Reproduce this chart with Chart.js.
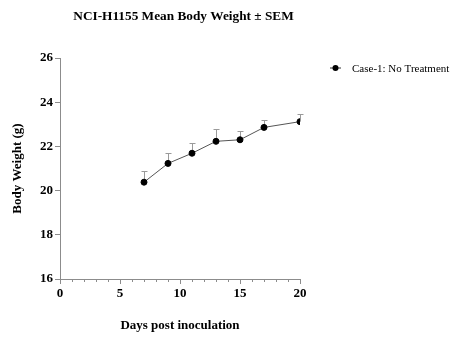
<!DOCTYPE html>
<html>
<head>
<meta charset="utf-8">
<script src="https://cdn.jsdelivr.net/npm/chart.js@4/dist/chart.umd.min.js"></script>
<style>
  html, body { margin: 0; padding: 0; background: #fff; }
  #wrap { width: 460px; height: 349px; }
</style>
</head>
<body>
<div id="wrap"><canvas id="bw"></canvas></div>
<script>
const days = [7, 9, 11, 13, 15, 17, 20];
const meanWeight = [20.38, 21.23, 21.69, 22.23, 22.30, 22.86, 23.12];
const sem = [0.52, 0.46, 0.48, 0.54, 0.38, 0.35, 0.36];
const xTicks = [0, 5, 10, 15, 20];
const yTicks = [16, 18, 20, 22, 24, 26];
const seriesName = "Case-1: No Treatment";
const chartTitle = "NCI-H1155 Mean Body Weight \u00b1 SEM";

const serif = "'Liberation Serif', 'Times New Roman', serif";
const axisGray = "#8c8c8c";

// upper error bars, minor x ticks, title and legend
const extras = {
  id: "extras",
  beforeDatasetsDraw(chart) {
    const ctx = chart.ctx;
    const xs = chart.scales.x, ys = chart.scales.y;
    ctx.save();
    ctx.strokeStyle = "#9a9a9a";
    ctx.lineWidth = 1;
    days.forEach((d, i) => {
      const px = Math.round(xs.getPixelForValue(d)) + 0.5;
      const y0 = ys.getPixelForValue(meanWeight[i]);
      const y1 = Math.round(ys.getPixelForValue(meanWeight[i] + sem[i])) + 0.5;
      ctx.beginPath();
      ctx.moveTo(px, y0);
      ctx.lineTo(px, y1);
      ctx.moveTo(px - 3, y1);
      ctx.lineTo(px + 3, y1);
      ctx.stroke();
    });
    ctx.restore();
  },
  afterDraw(chart) {
    const ctx = chart.ctx;
    const xs = chart.scales.x;
    const a = chart.chartArea;
    ctx.save();
    // minor ticks
    ctx.strokeStyle = axisGray;
    ctx.lineWidth = 1;
    for (let d = 1; d < 20; d++) {
      if (d % 5 === 0) continue;
      const px = Math.round(xs.getPixelForValue(d)) + 0.5;
      ctx.beginPath();
      ctx.moveTo(px, a.bottom);
      ctx.lineTo(px, a.bottom + 3);
      ctx.stroke();
    }
    // title
    ctx.fillStyle = "#000";
    ctx.font = "bold 13.3px " + serif;
    ctx.textAlign = "center";
    ctx.textBaseline = "middle";
    ctx.fillText(chartTitle, (a.left + a.right) / 2 + 3.5, 17);
    // legend
    const ly = 68;
    ctx.strokeStyle = "#333";
    ctx.beginPath();
    ctx.moveTo(330, ly);
    ctx.lineTo(341, ly);
    ctx.stroke();
    ctx.fillStyle = "#000";
    ctx.beginPath();
    ctx.arc(335.5, ly, 3, 0, Math.PI * 2);
    ctx.fill();
    ctx.font = "11px " + serif;
    ctx.textAlign = "left";
    ctx.fillText(seriesName, 352, ly + 1);
    ctx.restore();
  }
};

new Chart(document.getElementById("bw"), {
  type: "line",
  data: {
    datasets: [
      {
        label: seriesName,
        data: days.map((d, i) => ({ x: d, y: meanWeight[i] })),
        borderColor: "#555",
        borderWidth: 1,
        backgroundColor: "#000",
        pointBackgroundColor: "#000",
        pointBorderColor: "#000",
        pointRadius: 3,
        pointBorderWidth: 1,
        tension: 0,
      },
    ],
  },
  options: {
    responsive: true,
    maintainAspectRatio: false,
    animation: false,
    layout: { padding: { top: 58, right: 160, bottom: 12, left: 0 } },
    plugins: {
      legend: { display: false },
      tooltip: { enabled: false },
    },
    scales: {
      x: {
        type: "linear",
        min: 0,
        max: 20,
        afterBuildTicks: (s) => { s.ticks = xTicks.map((v) => ({ value: v })); },
        afterFit: (s) => { s.height = 58; },
        ticks: {
          color: "#000",
          font: { family: serif, size: 13, weight: "bold" },
          padding: 2,
          maxRotation: 0,
        },
        grid: {
          drawOnChartArea: false,
          tickLength: 5,
          tickColor: axisGray,
        },
        border: { color: axisGray, width: 1 },
        title: {
          display: true,
          text: "Days post inoculation",
          color: "#000",
          font: { family: serif, size: 13, weight: "bold" },
          padding: { top: 4, bottom: 4 },
        },
      },
      y: {
        type: "linear",
        min: 16,
        max: 26,
        afterBuildTicks: (s) => { s.ticks = yTicks.map((v) => ({ value: v })); },
        afterFit: (s) => { s.width = 60; },
        ticks: {
          color: "#000",
          font: { family: serif, size: 13, weight: "bold" },
          padding: 2,
        },
        grid: {
          drawOnChartArea: false,
          tickLength: 5,
          tickColor: axisGray,
        },
        border: { color: axisGray, width: 1 },
        title: {
          display: true,
          text: "Body Weight (g)",
          color: "#000",
          font: { family: serif, size: 13, weight: "bold" },
          padding: { top: 10, bottom: 4 },
        },
      },
    },
  },
  plugins: [extras],
});
</script>
</body>
</html>
